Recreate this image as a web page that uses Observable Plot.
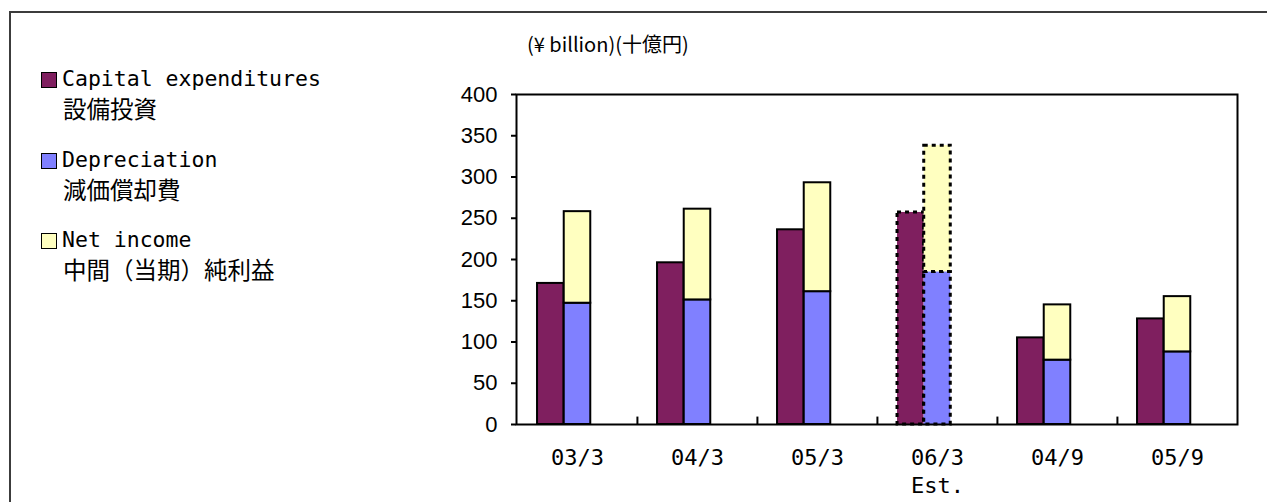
<!DOCTYPE html>
<html>
<head>
<meta charset="utf-8">
<script src="https://cdn.jsdelivr.net/npm/d3@7"></script>
<script src="https://cdn.jsdelivr.net/npm/@observablehq/plot@0.6"></script>
<style>
  html, body { margin: 0; padding: 0; background: #fff; overflow: hidden; }
  #wrap { position: relative; width: 1267px; height: 502px; overflow: hidden; }
  #chart { position: absolute; left: 0; top: 0; }
  #border { position: absolute; left: 9px; top: 11px; width: 1400px; height: 700px; border: 2px solid #3c3c3c; pointer-events: none; }
  .t { position: absolute; white-space: pre; color: #000; }
  .en { font-family: "DejaVu Sans Mono", monospace; font-size: 21.5px; line-height: 23px; }
  .ja { font-family: "Noto Sans CJK JP", sans-serif; font-size: 23.5px; line-height: 24px; }
  .sw { position: absolute; width: 14px; height: 14px; border: 1.5px solid #000; }
  #title { font-family: "Noto Sans CJK JP", sans-serif; font-size: 20px; line-height: 20px; }
  #chart svg [aria-label^="y-axis"] line, #chart svg [aria-label^="y-axis"] path { stroke-width: 2; }
</style>
</head>
<body>
<div id="wrap">
  <div id="chart"></div>
  <div id="legend"></div>
  <div id="title" class="t" style="left:527px; top:34px;"></div>
  <div id="border"></div>
</div>
<script>
// ---- data ----
const categories = ["03/3", "04/3", "05/3", "06/3", "04/9", "05/9"];
const tickLabels = ["03/3", "04/3", "05/3", "06/3\nEst.", "04/9", "05/9"];
const capex = [171, 196, 236, 257, 105, 128];
const depreciation = [147, 151, 161, 185, 78, 88];
const netIncome = [111, 110, 132, 153, 67, 67];
const estimated = [false, false, false, true, false, false];
const seriesNames = ["Capital expenditures", "Depreciation", "Net income"];
const seriesNamesJa = ["設備投資", "減価償却費", "中間（当期）純利益"];
const seriesColors = ["#7F1F5F", "#8080FF", "#FFFFC0"];
const yTicks = [0, 50, 100, 150, 200, 250, 300, 350, 400];
const unitTitle = "(¥ billion)(十億円)";

// ---- tables ----
const capexRows = categories.map((c, i) => ({cat: c, series: seriesNames[0], value: capex[i], est: estimated[i]}));
const stackRows = categories.flatMap((c, i) => [
  {cat: c, series: seriesNames[1], value: depreciation[i], est: estimated[i]},
  {cat: c, series: seriesNames[2], value: netIncome[i], est: estimated[i]}
]);
const labelRows = categories.map((c, i) => ({cat: c, label: tickLabels[i]}));

// ---- layout ----
const W = 1267, H = 502, mL = 516, mR = 30, mT = 94, mB = 78;
const bw = (W - mL - mR) / categories.length;
const slot = bw / 4.5;
const capInset = {insetLeft: 0.75 * slot, insetRight: bw - 1.75 * slot};
const stkInset = {insetLeft: 1.75 * slot, insetRight: bw - 2.75 * slot};
const solid = {stroke: "black", strokeWidth: 2};
const dashed = {stroke: "black", strokeWidth: 3, strokeDasharray: "4,4"};

const chart = Plot.plot({
  width: W, height: H,
  marginLeft: mL, marginRight: mR, marginTop: mT, marginBottom: mB,
  style: {fontFamily: "Liberation Sans, Arial, sans-serif", fontSize: "22px", background: "transparent", color: "black"},
  x: {domain: categories, padding: 0, axis: null},
  y: {domain: [0, 400], ticks: yTicks, tickSize: 5, tickPadding: 14, label: null, tickFormat: d => String(d)},
  color: {domain: seriesNames, range: seriesColors},
  marks: [
    Plot.barY(capexRows.filter(d => !d.est), {x: "cat", y: "value", fill: "series", ...solid, ...capInset}),
    Plot.barY(stackRows.filter(d => !d.est), {x: "cat", y: "value", fill: "series", ...solid, ...stkInset}),
    Plot.barY(capexRows.filter(d => d.est), {x: "cat", y: "value", fill: "series", ...dashed, ...capInset}),
    Plot.barY(stackRows.filter(d => d.est), {x: "cat", y: "value", fill: "series", ...dashed, ...stkInset}),
    Plot.ruleX(categories.slice(1), {x: d => d, dx: -bw / 2, y1: 0, y2: 9, stroke: "black", strokeWidth: 2}),
    Plot.frame({stroke: "black", strokeWidth: 2}),
    Plot.text(labelRows, {x: "cat", text: "label", frameAnchor: "bottom", lineAnchor: "top", dy: 20,
      fontSize: 22, fontFamily: "DejaVu Sans Mono, monospace", lineHeight: 1.3, fill: "black"})
  ]
});
document.getElementById("chart").appendChild(chart);

// ---- title ----
document.getElementById("title").textContent = unitTitle;

// ---- legend ----
const legend = document.getElementById("legend");
const swTops = [72, 153, 233];
const enTops = [67, 148, 228];
const jaTops = [96, 177, 257];
seriesNames.forEach((name, i) => {
  const sw = document.createElement("div");
  sw.className = "sw";
  sw.style.left = "41px";
  sw.style.top = swTops[i] + "px";
  sw.style.background = seriesColors[i];
  legend.appendChild(sw);
  const en = document.createElement("div");
  en.className = "t en";
  en.style.left = "62px";
  en.style.top = enTops[i] + "px";
  en.textContent = name;
  legend.appendChild(en);
  const ja = document.createElement("div");
  ja.className = "t ja";
  ja.style.left = "63px";
  ja.style.top = jaTops[i] + "px";
  ja.textContent = seriesNamesJa[i];
  legend.appendChild(ja);
});
</script>
</body>
</html>
